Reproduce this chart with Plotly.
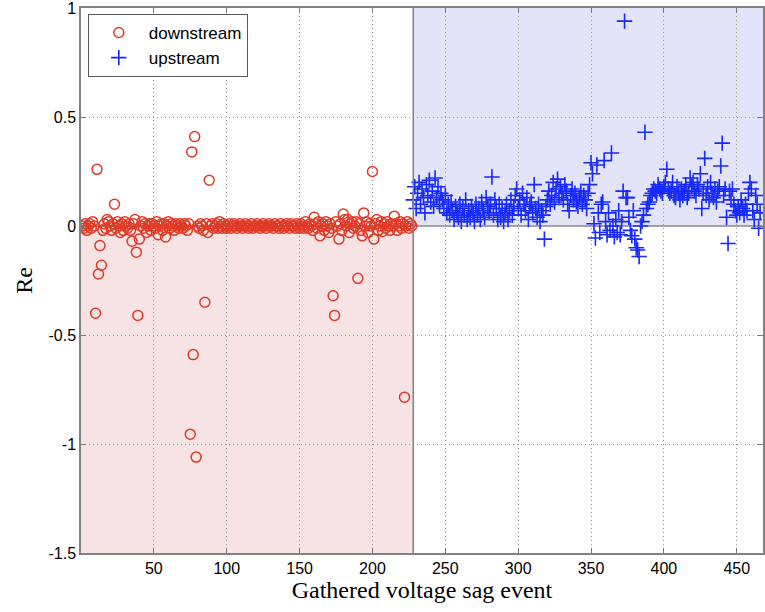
import plotly.graph_objects as go

downstream = [
    0.0, -0.01, 0.01, -0.02, 0.0, 0.01, -0.01, 0.02, 0.0, -0.40,
    0.26, -0.22, -0.09, -0.18, -0.02, 0.01, -0.01, 0.03, 0.02, 0.0,
    -0.02, 0.01, 0.10, -0.01, 0.02, 0.0, -0.03, 0.01, -0.02, 0.02,
    0.0, -0.01, 0.01, -0.02, -0.07, 0.01, 0.03, -0.12, -0.41, -0.06,
    0.0, 0.02, -0.01, 0.01, -0.03, 0.0, 0.01, -0.02, 0.01, 0.0,
    -0.01, 0.02, -0.04, 0.0, 0.01, -0.02, 0.01, -0.05, 0.0, 0.02,
    -0.01, 0.01, 0.0, -0.02, 0.01, 0.0, -0.01, 0.01, 0.0, -0.01,
    0.01, 0.0, -0.02, 0.01, -0.955, 0.34, -0.59, 0.41, -1.06, 0.0,
    -0.01, 0.01, 0.0, -0.02, -0.35, 0.01, -0.03, 0.21, 0.0, 0.01,
    -0.01, 0.0, 0.01, -0.01, 0.02, 0.0, -0.01, 0.01, 0.0, -0.01,
    0.0, 0.01, -0.01, 0.0, 0.01, 0.0, -0.01, 0.0, 0.01, 0.0,
    -0.01, 0.0, 0.01, 0.0, -0.01, 0.0, 0.01, -0.01, 0.0, 0.0,
    0.01, 0.0, -0.01, 0.0, 0.01, 0.0, -0.01, 0.0, 0.01, 0.0,
    0.0, -0.01, 0.01, 0.0, 0.0, -0.01, 0.01, 0.0, -0.01, 0.0,
    0.01, 0.0, -0.01, 0.01, 0.0, 0.0, -0.01, 0.01, 0.0, -0.01,
    0.01, 0.0, -0.01, 0.02, 0.0, -0.01, 0.01, 0.0, -0.02, 0.04,
    0.01, -0.01, 0.02, -0.045, 0.0, 0.01, -0.02, 0.02, 0.0, -0.03,
    0.01, -0.01, -0.32, -0.41, 0.02, 0.0, -0.06, 0.01, -0.02, 0.055,
    0.03, 0.0, 0.03, -0.03, 0.01, 0.02, -0.01, 0.0, 0.02, -0.24,
    0.01, -0.02, -0.045, 0.06, 0.0, 0.02, -0.03, 0.01, 0.0, 0.25,
    -0.06, 0.01, 0.03, -0.02, 0.0, 0.02, -0.025, 0.01, -0.01, 0.02,
    0.0, -0.02, 0.01, 0.0, 0.045, 0.01, -0.02, 0.0, 0.02, -0.01,
    0.01, -0.785, 0.0, 0.02, -0.01, 0.01, 0.0,
]

upstream = [
    0.12, 0.18, 0.08, 0.15, 0.20, 0.10, 0.17, 0.13, 0.06, 0.19,
    0.14, 0.21, 0.11, 0.16, 0.09, 0.22, 0.13, 0.18, 0.10, 0.15,
    0.12, 0.08, 0.14, 0.06, 0.10, 0.05, 0.11, 0.07, 0.03, 0.09,
    0.06, 0.04, 0.10, 0.02, 0.08, 0.05, 0.12, 0.03, 0.07, 0.04,
    0.09, 0.06, 0.02, 0.10, 0.05, 0.08, 0.03, 0.11, 0.07, 0.04,
    0.13, 0.09, 0.06, 0.10, 0.225, 0.05, 0.12, 0.08, 0.03, 0.10,
    0.04, 0.08, 0.02, 0.06, 0.10, 0.03, 0.07, 0.12, 0.05, 0.09,
    0.14, 0.17, 0.08, 0.12, 0.05, 0.15, 0.10, 0.07, 0.13, 0.03,
    0.09, 0.11, 0.06, 0.19, 0.08, 0.04, 0.10, 0.02, 0.07, 0.05,
    -0.06, 0.09, 0.12, 0.16, 0.10, 0.14, 0.20, 0.11, 0.17, 0.215,
    0.13, 0.18, 0.15, 0.12, 0.19, 0.16, 0.10, 0.07, 0.14, 0.17,
    0.12, 0.15, 0.11, 0.09, 0.13, 0.16, 0.10, 0.14, 0.12, 0.08,
    0.15, 0.19, 0.29, 0.24, 0.01, -0.055, 0.28, 0.06, -0.03, 0.10,
    0.11, 0.30, 0.02, -0.04, 0.06, -0.02, 0.335, 0.0, -0.05, 0.03,
    -0.03, 0.07, -0.04, 0.02, 0.16, 0.94, 0.13, 0.13, 0.04, -0.02,
    -0.045, 0.07, -0.06, -0.10, -0.11, -0.14, 0.0, 0.02, 0.05, 0.43,
    0.08, 0.10, 0.11, 0.14, 0.15, 0.17, 0.16, 0.15, 0.19, 0.17,
    0.16, 0.15, 0.18, 0.20, 0.26, 0.17, 0.15, 0.16, 0.20, 0.14,
    0.13, 0.18, 0.15, 0.12, 0.17, 0.14, 0.16, 0.19, 0.13, 0.15,
    0.22, 0.18, 0.20, 0.16, 0.14, 0.19, 0.17, 0.24, 0.08, 0.15,
    0.31, 0.14, 0.18, 0.12, 0.20, 0.15, 0.13, 0.17, 0.11, 0.16,
    0.18, 0.275, 0.38, 0.14, 0.17, 0.04, -0.08, 0.16, 0.12, 0.17,
    0.10, 0.07, 0.05, 0.09, 0.06, 0.12, 0.08, 0.05, 0.10, 0.07,
    0.15, 0.20, 0.17, 0.07, 0.03, 0.14, 0.10, -0.01, 0.06,
]

x_ticks = [50, 100, 150, 200, 250, 300, 350, 400, 450]
y_ticks = [-1.5, -1, -0.5, 0, 0.5, 1]
y_labels = ["-1.5", "-1", "-0.5", "0", "0.5", "1"]

down_x = list(range(1, len(downstream) + 1))
up_x = list(range(len(downstream) + 1, len(downstream) + 1 + len(upstream)))
boundary = len(downstream) + 1
x_max = 468

RED = "rgb(224,58,38)"
BLUE = "rgb(20,40,255)"
GRID = "rgb(150,150,150)"

fig = go.Figure()
fig.add_trace(go.Scatter(
    x=down_x, y=downstream, mode="markers", name="downstream",
    marker=dict(symbol="circle-open", size=10, color=RED,
                line=dict(width=1.5, color=RED)),
))
fig.add_trace(go.Scatter(
    x=up_x, y=upstream, mode="markers", name="upstream",
    marker=dict(symbol="cross-thin-open", size=11, color=BLUE,
                line=dict(width=1.6, color=BLUE)),
))

fig.add_shape(type="rect", xref="x", yref="y", x0=0, x1=boundary, y0=-1.5, y1=0,
              fillcolor="rgb(247,227,227)", line=dict(width=0), layer="below")
fig.add_shape(type="rect", xref="x", yref="y", x0=boundary, x1=x_max, y0=0, y1=1,
              fillcolor="rgb(227,227,250)", line=dict(width=0), layer="below")
fig.add_shape(type="line", xref="x", yref="y", x0=boundary, x1=boundary, y0=-1.5, y1=1,
              line=dict(color="rgb(130,130,130)", width=1.5), layer="above")
fig.add_shape(type="line", xref="x", yref="y", x0=0, x1=boundary, y0=0, y1=0,
              line=dict(color="rgb(30,30,30)", width=1.2), layer="below")
fig.add_shape(type="line", xref="x", yref="y", x0=boundary, x1=x_max, y0=0, y1=0,
              line=dict(color="rgb(90,90,90)", width=1.2), layer="below")

fig.update_layout(
    width=765, height=612,
    margin=dict(l=81, r=0, t=8, b=59),
    paper_bgcolor="white", plot_bgcolor="white",
    font=dict(family="Liberation Sans, Arial", size=16, color="black"),
    showlegend=True,
    legend=dict(x=0.01, y=0.989, xanchor="left", yanchor="top",
                bgcolor="white", bordercolor="rgb(90,90,90)", borderwidth=1,
                font=dict(size=17, family="Liberation Sans, Arial"),
                tracegroupgap=0, itemwidth=50),
)
fig.update_xaxes(
    range=[0, x_max], tickvals=x_ticks, ticks="inside", ticklen=5,
    tickcolor="rgb(120,120,120)",
    showline=True, linecolor="rgb(130,130,130)", linewidth=1.5, mirror="ticks",
    showgrid=True, gridcolor=GRID, griddash="1px,3px", gridwidth=1,
    zeroline=False,
    title=dict(text="Gathered voltage sag event", standoff=4,
               font=dict(family="Liberation Serif, Times New Roman", size=24)),
    tickfont=dict(size=16),
    ticklabeloverflow="allow",
)
fig.update_yaxes(
    range=[-1.5, 1], tickvals=y_ticks, ticktext=y_labels, ticks="inside", ticklen=5,
    tickcolor="rgb(120,120,120)",
    showline=True, linecolor="rgb(130,130,130)", linewidth=1.5, mirror="ticks",
    showgrid=True, gridcolor=GRID, griddash="1px,3px", gridwidth=1,
    zeroline=False,
    title=dict(text="Re", standoff=9,
               font=dict(family="Liberation Serif, Times New Roman", size=24)),
    tickfont=dict(size=16),
    ticklabeloverflow="allow",
)

fig.write_html("out.html")
